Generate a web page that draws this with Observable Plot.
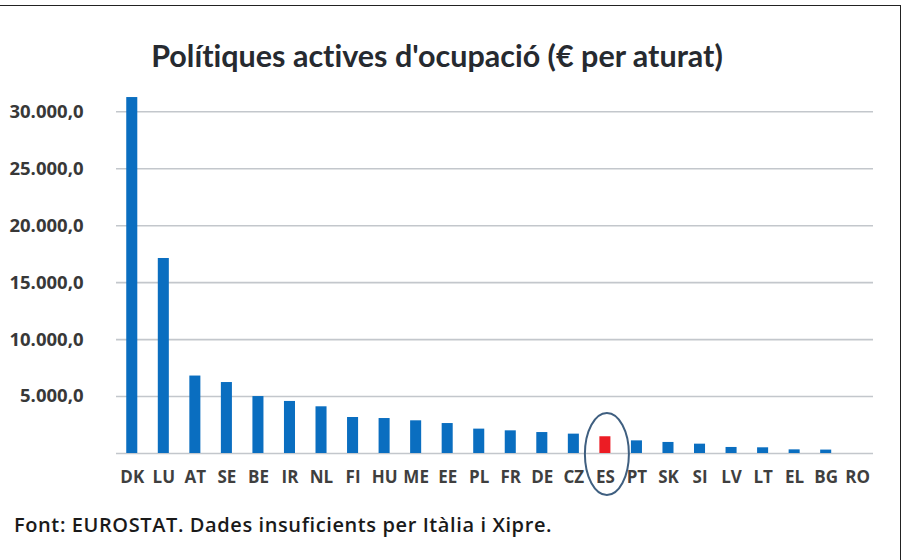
<!DOCTYPE html>
<html><head><meta charset="utf-8">
<script src="https://cdn.jsdelivr.net/npm/d3@7"></script>
<script src="https://cdn.jsdelivr.net/npm/@observablehq/plot@0.6"></script>
<style>
body{margin:0;background:#fff;}
#wrap{position:relative;width:906px;height:560px;overflow:hidden;background:#fff;}
#frame{position:absolute;left:-2px;top:5px;width:902px;height:600px;border-top:1.5px solid #222;border-right:1.5px solid #222;}
#title{position:absolute;left:0;top:40px;width:874px;text-align:center;font-family:Lato,'Open Sans',sans-serif;font-weight:bold;font-size:30.5px;line-height:30px;color:#262a30;white-space:nowrap;font-variant-ligatures:none;font-feature-settings:"liga" 0;}
#chart{position:absolute;left:0;top:80px;}
#caption{position:absolute;left:14px;top:514px;font-family:'Open Sans',sans-serif;font-weight:600;font-size:20px;letter-spacing:0.6px;line-height:22px;color:#1a1a1a;white-space:nowrap;}
</style></head>
<body>
<div id="wrap">
  <div id="frame"></div>
  <div id="title">Polítiques actives d'ocupació (€ per aturat)</div>
  <div id="chart"></div>
  <div id="caption">Font: EUROSTAT. Dades insuficients per Itàlia i Xipre.</div>
</div>
<script>
const countries = ["DK","LU","AT","SE","BE","IR","NL","FI","HU","ME","EE","PL","FR","DE","CZ","ES","PT","SK","SI","LV","LT","EL","BG","RO"];
const values = [31250,17120,6800,6230,5000,4570,4100,3160,3070,2870,2630,2140,1990,1840,1700,1470,1110,970,820,530,500,320,300,0];
const highlight = "ES";
const gridTicks = [0,5000,10000,15000,20000,25000,30000];
const yTicks = [5000,10000,15000,20000,25000,30000];

const fmt = d3.formatLocale({decimal:",", thousands:".", grouping:[3], currency:["","€"]}).format(",.1f");
const data = countries.map((c,i)=>({country:c, value:values[i]}));

const chart = Plot.plot({
  width: 906, height: 420,
  marginTop: 8.5, marginBottom: 47, marginLeft: 116, marginRight: 33,
  style: {fontFamily: "'Open Sans', sans-serif", fontWeight: "bold", fontSize: "17px", color: "#3f3f3f", background: "transparent", overflow: "visible"},
  x: {domain: countries, paddingInner: 0.65, paddingOuter: 0.325, round: false, label: null},
  y: {domain: [0, 32000], label: null},
  marks: [
    Plot.ruleY(gridTicks, {stroke: "#c3c7cc", strokeWidth: 1.6}),
    Plot.barY(data, {x: "country", y: "value", fill: d => d.country === highlight ? "#ec1c24" : "#0a6ec0"}),
    Plot.axisY(yTicks, {tickSize: 0, tickPadding: 33, tickFormat: fmt, fontWeight: "bold", fontSize: 18.5, fill: "#383838"}),
    Plot.axisX({tickSize: 0, tickPadding: 17, fontWeight: "bold", fontSize: 17, fill: "#3f3f3f"})
  ]
});
document.getElementById("chart").appendChild(chart);

const xs = chart.scale("x"), ys = chart.scale("y");
d3.select(chart).append("ellipse")
  .attr("cx", xs.apply(highlight) + xs.bandwidth / 2 + 2)
  .attr("cy", ys.apply(0) + 1)
  .attr("rx", 22).attr("ry", 41)
  .attr("fill", "none").attr("stroke", "#3f5f80").attr("stroke-width", 2);
</script>
</body></html>
